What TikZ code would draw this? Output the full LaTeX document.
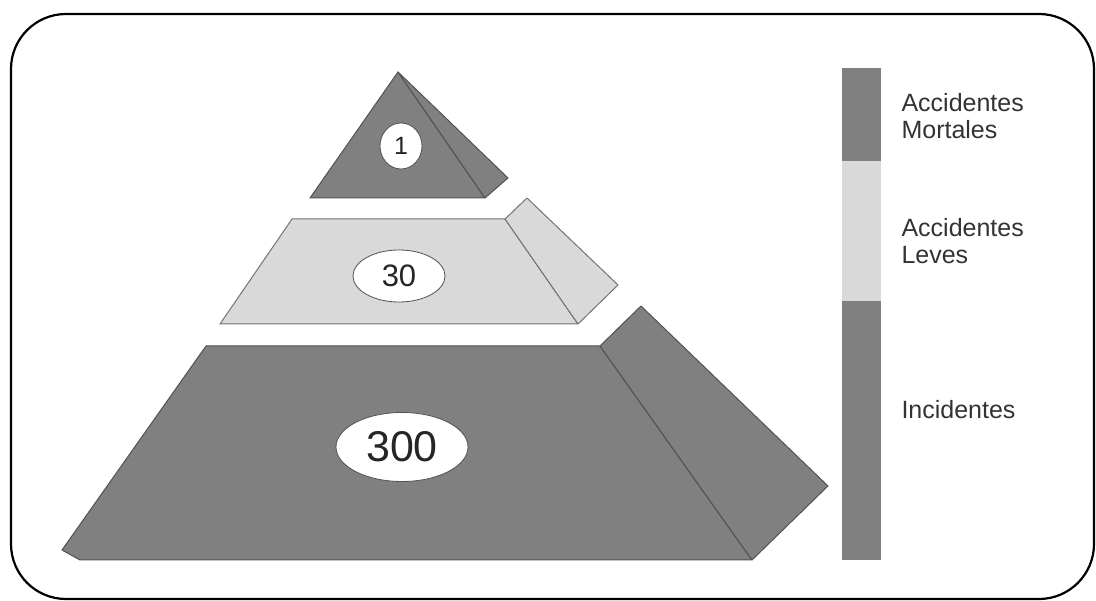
\documentclass[tikz,border=0pt]{standalone}
\usepackage{fontspec}
\setmainfont{Liberation Sans}
\usetikzlibrary{shapes.geometric}
\definecolor{darkfill}{gray}{0.50}
\definecolor{lightfill}{gray}{0.85}
\definecolor{edgecol}{gray}{0.32}
\definecolor{lightedge}{gray}{0.45}
\definecolor{labeltext}{gray}{0.20}
\begin{document}
\begin{tikzpicture}[x=1pt,y=-1pt,
  face/.style={line width=1pt, line join=round},
  darkface/.style={face, draw=edgecol, fill=darkfill},
  lightface/.style={face, draw=lightedge, fill=lightfill},
  count/.style={ellipse, draw=edgecol, fill=white, line width=0.8pt, inner sep=0pt, text=black!85},
  legend/.style={anchor=west, align=left, font=\fontsize{25}{27}\selectfont, text=labeltext}]
\useasboundingbox (0,0) rectangle (1096,601);
% outer frame
\draw[line width=2.2pt, rounded corners=55pt] (11,14) rectangle (1094,599);

% top: fatal accidents
\draw[darkface] (398,72) -- (310,198) -- (485,198) -- cycle;
\draw[darkface] (398,72) -- (485,198) -- (508,178) -- cycle;

% middle: minor accidents
\draw[lightface] (292,219) -- (505,219) -- (578,324) -- (220,324) -- cycle;
\draw[lightface] (505,219) -- (527,198) -- (618,285) -- (578,324) -- cycle;

% bottom: incidents
\draw[darkface] (206,346) -- (600,346) -- (752,560) -- (80,560) -- (62,550) -- cycle;
\draw[darkface] (600,346) -- (641,306) -- (828,486) -- (752,560) -- cycle;

% counts
\node[count, minimum width=42pt, minimum height=46pt, font=\fontsize{25}{25}\selectfont] (n1) at (401,146) {1};
\node[count, minimum width=92pt, minimum height=52pt, font=\fontsize{31}{31}\selectfont] (n30) at (399,276) {30};
\node[count, minimum width=132pt, minimum height=69pt, font=\fontsize{43}{43}\selectfont] (n300) at (402,447) {300};

% legend bar
\fill[darkfill] (842,68) rectangle (881,161);
\fill[lightfill] (842,161) rectangle (881,301);
\fill[darkfill] (842,301) rectangle (881,560);

% legend labels
\node[legend] (l1) at (898,116) {Accidentes\\Mortales};
\node[legend] (l2) at (898,241) {Accidentes\\Leves};
\node[legend] (l3) at (898,410) {Incidentes};
\end{tikzpicture}
\end{document}
